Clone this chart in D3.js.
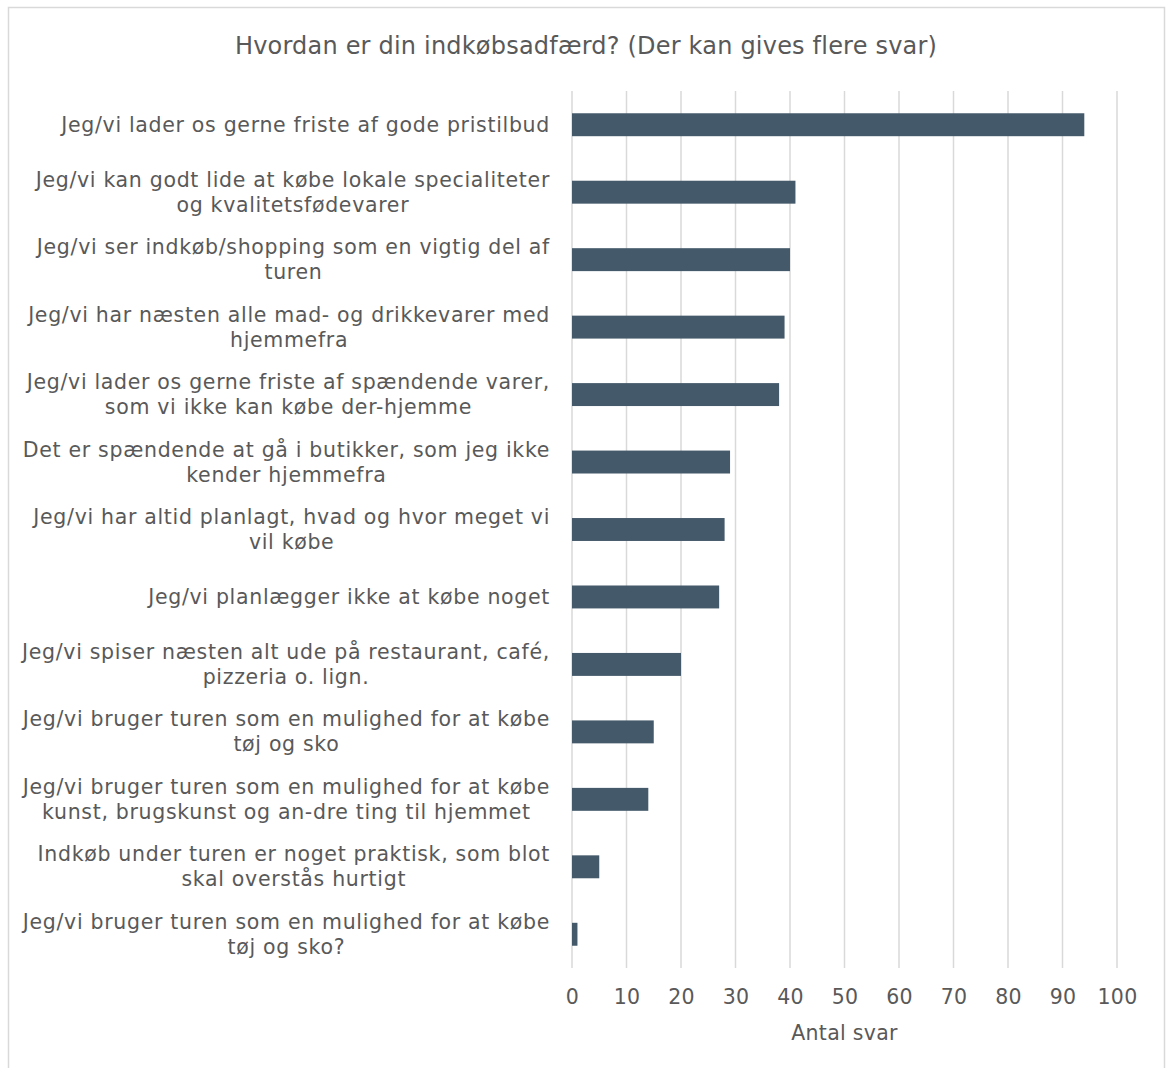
<!DOCTYPE html>
<html>
<head>
<meta charset="utf-8">
<script src="https://cdn.jsdelivr.net/npm/d3@7"></script>
<style>
  body { margin: 0; background: #fff; }
  text { font-family: "DejaVu Sans", Verdana, sans-serif; fill: #595959; }
</style>
</head>
<body>
<div id="chart"></div>
<script>
// categories (line breaks as in the original chart)
const categories = [
    "Jeg/vi lader os gerne friste af gode pristilbud",
    "Jeg/vi kan godt lide at købe lokale specialiteter\nog kvalitetsfødevarer",
    "Jeg/vi ser indkøb/shopping som en vigtig del af\nturen",
    "Jeg/vi har næsten alle mad- og drikkevarer med\nhjemmefra",
    "Jeg/vi lader os gerne friste af spændende varer,\nsom vi ikke kan købe der-hjemme",
    "Det er spændende at gå i butikker, som jeg ikke\nkender hjemmefra",
    "Jeg/vi har altid planlagt, hvad og hvor meget vi\nvil købe",
    "Jeg/vi planlægger ikke at købe noget",
    "Jeg/vi spiser næsten alt ude på restaurant, café,\npizzeria o. lign.",
    "Jeg/vi bruger turen som en mulighed for at købe\ntøj og sko",
    "Jeg/vi bruger turen som en mulighed for at købe\nkunst, brugskunst og an-dre ting til hjemmet",
    "Indkøb under turen er noget praktisk, som blot\nskal overstås hurtigt",
    "Jeg/vi bruger turen som en mulighed for at købe\ntøj og sko?"
];
const values = [94, 41, 40, 39, 38, 29, 28, 27, 20, 15, 14, 5, 1];
const xTicks = [0, 10, 20, 30, 40, 50, 60, 70, 80, 90, 100];

const title = "Hvordan er din indkøbsadfærd? (Der kan gives flere svar)";
const xTitle = "Antal svar";

const width = 1173;
const height = 1068;
const margin = { top: 91, right: 56, bottom: 100, left: 572 };
const plotW = width - margin.left - margin.right;
const plotH = height - margin.top - margin.bottom;

const svg = d3.select("#chart").append("svg")
    .attr("width", width)
    .attr("height", height);

// outer frame
svg.append("rect")
    .attr("x", 8.5).attr("y", 7.5)
    .attr("width", 1156).attr("height", 1100)
    .attr("fill", "#fff")
    .attr("stroke", "#d9d9d9")
    .attr("stroke-width", 1.5);

svg.append("text")
    .attr("x", 586).attr("y", 46)
    .attr("text-anchor", "middle")
    .attr("dominant-baseline", "central")
    .style("font-size", "24px")
    .style("letter-spacing", "0.2px")
    .text(title);

const g = svg.append("g")
    .attr("transform", `translate(${margin.left},${margin.top})`);

const x = d3.scaleLinear().domain([0, 100]).range([0, plotW]);
const y = d3.scaleBand().domain(d3.range(categories.length)).range([0, plotH]).paddingInner(0.66).paddingOuter(0.33);

// gridlines
g.selectAll(".grid")
    .data(xTicks)
    .enter().append("line")
    .attr("x1", d => x(d)).attr("x2", d => x(d))
    .attr("y1", 0).attr("y2", plotH)
    .attr("stroke", "#d9d9d9")
    .attr("stroke-width", 1.5);

// bars
g.selectAll(".bar")
    .data(values)
    .enter().append("rect")
    .attr("x", x(0))
    .attr("y", (d, i) => y(i))
    .attr("width", d => x(d) - x(0))
    .attr("height", y.bandwidth())
    .attr("fill", "#44596a");

// x axis tick labels
const xAxis = g.append("g")
    .attr("transform", `translate(0,${plotH})`)
    .call(d3.axisBottom(x).tickValues(xTicks).tickSize(0).tickPadding(21));
xAxis.select(".domain").remove();
xAxis.selectAll("text")
    .style("font-family", "'DejaVu Sans', Verdana, sans-serif")
    .style("font-size", "20.5px")
    .style("letter-spacing", "0.3px")
    .style("fill", "#595959");

g.append("text")
    .attr("x", plotW / 2)
    .attr("y", plotH + 65)
    .attr("text-anchor", "middle")
    .attr("dominant-baseline", "central")
    .style("font-size", "20.5px")
    .style("letter-spacing", "0.3px")
    .text(xTitle);

// category labels: lines centred with each other, block right-aligned
const lineH = 25;
categories.forEach((c, i) => {
    const lines = c.split("\n");
    const cy = y(i) + y.bandwidth() / 2;
    const lg = g.append("g");
    const texts = lines.map((t, k) => lg.append("text")
        .attr("x", 0)
        .attr("y", cy + (k - (lines.length - 1) / 2) * lineH)
        .attr("text-anchor", "middle")
        .attr("dominant-baseline", "central")
        .style("font-size", "20.5px")
        .style("letter-spacing", "0.68px")
        .text(t));
    const maxW = d3.max(texts, t => t.node().getComputedTextLength());
    lg.attr("transform", `translate(${-22 - maxW / 2},0)`);
});
</script>
</body>
</html>
